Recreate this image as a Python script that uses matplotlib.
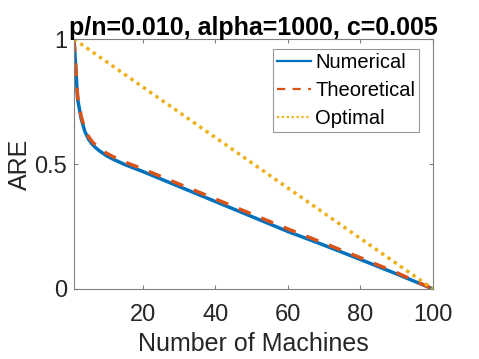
import numpy as np
import matplotlib
matplotlib.use("Agg")
import matplotlib.pyplot as plt

plt.rcParams['font.family'] = ['Liberation Sans', 'DejaVu Sans']

# values
machines = [1, 2, 3, 4, 5, 6, 7, 8, 10, 12, 15, 20, 30, 40, 50, 60, 70, 80, 90, 100]
numerical = [1.0, 0.76, 0.68, 0.63, 0.60, 0.58, 0.565, 0.553, 0.533, 0.518, 0.498, 0.47,
             0.41, 0.35, 0.29, 0.23, 0.175, 0.118, 0.06, 0.0]
theoretical = [1.0, 0.77, 0.69, 0.64, 0.61, 0.59, 0.575, 0.563, 0.543, 0.528, 0.508, 0.48,
               0.42, 0.36, 0.30, 0.24, 0.183, 0.125, 0.065, 0.0]
opt_x = [1, 100]
optimal = [1.0, 0.0]

xticks = [20, 40, 60, 80, 100]
yticks = [0, 0.5, 1]
yticklabels = ['0', '0.5', '1']

fig = plt.figure(figsize=(4.79, 3.59), dpi=100)
ax = fig.add_axes([0.1545, 0.195, 0.7495, 0.696])

ax.plot(machines, numerical, color='#0072BD', lw=2.5, label='Numerical')
ax.plot(machines, theoretical, color='#D95319', lw=2.5, ls=(0, (3.7, 3.3)), label='Theoretical')
ax.plot(opt_x, optimal, color='#EDB120', lw=2.5, ls=(0, (1, 1.2)), label='Optimal')

ax.set_xlim(1, 100)
ax.set_ylim(0, 1)
ax.set_xticks(xticks)
ax.set_yticks(yticks)
ax.set_yticklabels(yticklabels)
ax.tick_params(direction='in', length=3, width=0.8, colors='#262626', labelsize=17,
               top=True, right=True, color='#808080', pad=5)
ax.tick_params(axis='x', pad=11)
for s in ax.spines.values():
    s.set_color('#808080')
    s.set_linewidth(0.8)

ax.set_xlabel('Number of Machines', fontsize=18, color='#262626', labelpad=4)
ax.set_ylabel('ARE', fontsize=18, color='#262626', labelpad=2)
ax.set_title('p/n=0.010, alpha=1000, c=0.005', fontsize=18, fontweight='bold', pad=3)

leg = ax.legend(loc='upper right', bbox_to_anchor=(0.962, 0.962), fontsize=14.5,
                frameon=True, fancybox=False, handlelength=1.7, handletextpad=0.2,
                borderpad=0.2, labelspacing=0.45, borderaxespad=0)
leg.get_frame().set_edgecolor('#808080')
leg.get_frame().set_linewidth(0.8)
for h in leg.get_lines():
    h.set_linewidth(1.6)

fig.savefig('out.png', dpi=100)
